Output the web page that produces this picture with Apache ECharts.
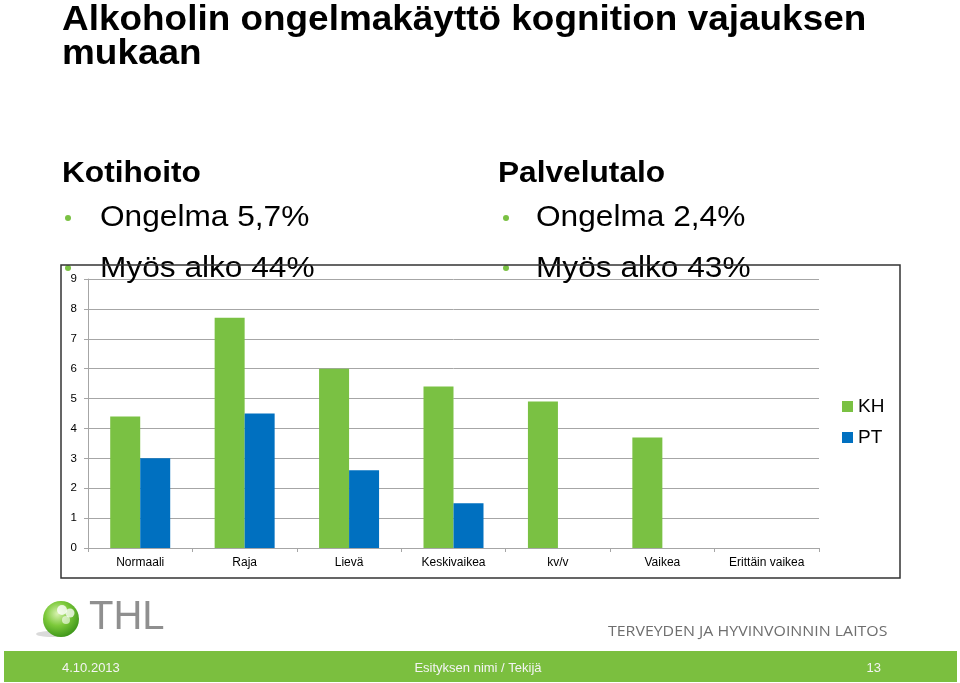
<!DOCTYPE html>
<html><head><meta charset="utf-8">
<script src="https://cdn.jsdelivr.net/npm/echarts@6/dist/echarts.min.js"></script>
<style>html,body{margin:0;padding:0;background:#fff}#c{width:960px;height:683px}</style>
</head><body><div id="c"></div>
<script>
const categories = ['Normaali','Raja','Lievä','Keskivaikea','kv/v','Vaikea','Erittäin vaikea'];
const seriesNames = ['KH','PT'];
const khValues = [4.4, 7.7, 6.0, 5.4, 4.9, 3.7, null];
const ptValues = [3.0, 4.5, 2.6, 1.5, null, null, null];
const yTicks = [0,1,2,3,4,5,6,7,8,9];

const F = "'Liberation Sans', Arial, sans-serif";
const GREEN = '#7AC143', BLUE = '#0070C0', GRID = '#a6a6a6';
const SX = 1.055;

function txt(text, x, y, size, opts) {
  opts = opts || {};
  return {type:'text', x:x, y:y, z: opts.z || 10, scaleX: opts.scaleX || 1,
    style:{text:text, font:(opts.weight||'normal')+' '+size+'px '+(opts.family||F), fill:opts.fill||'#000',
      align:opts.align||'left', verticalAlign:'middle'}};
}
function dot(x,y){return {type:'circle', z:10, shape:{cx:x,cy:y,r:3}, style:{fill:GREEN}};}

const chart = echarts.init(document.getElementById('c'), null, {renderer:'canvas'});
chart.setOption({
  backgroundColor:'#fff',
  animation:false,
  grid:{left:88, right:141, top:279, bottom:135, containLabel:false, outerBoundsMode:'none'},
  legend:{data:seriesNames, orient:'vertical', left:842, top:397, padding:0, itemWidth:11, itemHeight:11,
    itemGap:12, icon:'rect', textStyle:{fontFamily:F, fontSize:19, color:'#000'}},
  xAxis:{type:'category', data:categories, boundaryGap:true,
    axisLine:{lineStyle:{color:GRID}}, axisTick:{show:true, length:4, lineStyle:{color:GRID}},
    axisLabel:{interval:0, fontFamily:F, fontSize:12, color:'#000', margin:9}},
  yAxis:{type:'value', min:yTicks[0], max:yTicks[yTicks.length-1], interval:1,
    axisLine:{show:true, lineStyle:{color:GRID}}, axisTick:{show:true, length:4, lineStyle:{color:GRID}},
    splitLine:{lineStyle:{color:GRID}},
    axisLabel:{fontFamily:F, fontSize:11.5, color:'#000', margin:11}},
  series:[
    {name:seriesNames[0], type:'bar', data:khValues, barWidth:30, barGap:'0%', itemStyle:{color:GREEN}},
    {name:seriesNames[1], type:'bar', data:ptValues, barWidth:30, barGap:'0%', itemStyle:{color:BLUE}}
  ],
  graphic:[
    txt('Alkoholin ongelmakäyttö kognition vajauksen', 62, 20, 35, {weight:'bold', scaleX:SX}),
    txt('mukaan', 62, 54, 35, {weight:'bold', scaleX:SX}),
    txt('Kotihoito', 62, 174, 30, {weight:'bold', scaleX:SX}),
    txt('Palvelutalo', 498, 174, 30, {weight:'bold', scaleX:SX}),
    dot(68, 218), txt('Ongelma 5,7%', 100, 218, 30, {scaleX:SX}),
    dot(68, 268), txt('Myös alko 44%', 100, 268.5, 30, {scaleX:SX}),
    dot(506, 218), txt('Ongelma 2,4%', 536, 218, 30, {scaleX:SX}),
    dot(506, 268), txt('Myös alko 43%', 536, 268.5, 30, {scaleX:SX}),
    {type:'rect', z:20, shape:{x:61, y:265, width:839, height:313}, style:{fill:null, stroke:'#333', lineWidth:1.5}},
    // footer logo
    {type:'ellipse', z:5, shape:{cx:52, cy:634, rx:16, ry:3}, style:{fill:'rgba(150,150,150,0.35)'}},
    {type:'circle', z:6, shape:{cx:61, cy:619, r:18},
      style:{fill:new echarts.graphic.RadialGradient(0.4,0.35,0.75,[{offset:0,color:'#d8f2b0'},{offset:0.45,color:'#7cc93a'},{offset:1,color:'#2f8a12'}])}},
    {type:'circle', z:7, shape:{cx:62, cy:610, r:5}, style:{fill:'rgba(255,255,255,0.8)'}},
    {type:'circle', z:7, shape:{cx:70, cy:613, r:4.5}, style:{fill:'rgba(255,255,255,0.75)'}},
    {type:'circle', z:7, shape:{cx:66, cy:620, r:4}, style:{fill:'rgba(255,255,255,0.6)'}},
    txt('THL', 89, 618, 40, {fill:'#8f8f8f'}),
    txt('TERVEYDEN JA HYVINVOINNIN LAITOS', 608, 632, 15, {fill:'#6e6e6e', family:"'Open Sans', sans-serif", scaleX:1.06}),
    {type:'rect', z:5, shape:{x:4, y:651, width:953, height:31}, style:{fill:'#7BBF3F'}},
    txt('4.10.2013', 62, 668, 13, {fill:'#f4f4f4', z:6}),
    txt('Esityksen nimi / Tekijä', 478, 668, 13, {fill:'#f4f4f4', align:'center', z:6}),
    txt('13', 881, 668, 13, {fill:'#f4f4f4', align:'right', z:6})
  ]
});
</script></body></html>
